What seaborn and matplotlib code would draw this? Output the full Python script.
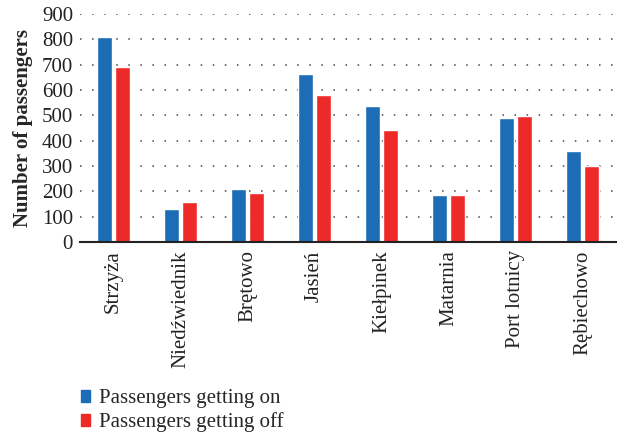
import matplotlib
matplotlib.use("Agg")
import matplotlib.pyplot as plt
import seaborn as sns
import pandas as pd
from matplotlib.patches import Patch

stops = ["Strzyża", "Niedźwiednik", "Brętowo", "Jasień", "Kiełpinek",
         "Matarnia", "Port lotnicy", "Rębiechowo"]
getting_on = [810, 131, 210, 664, 538, 187, 491, 360]
getting_off = [692, 156, 192, 582, 443, 187, 499, 301]
series_names = ["Passengers getting on", "Passengers getting off"]
yticks = [0, 100, 200, 300, 400, 500, 600, 700, 800, 900]

df = pd.DataFrame({
    "stop": stops * 2,
    "value": getting_on + getting_off,
    "series": [series_names[0]] * len(stops) + [series_names[1]] * len(stops),
})

sns.set_style("white")
plt.rcParams["font.family"] = ["Liberation Serif", "DejaVu Serif"]

fig = plt.figure(figsize=(6.17, 4.32), dpi=100)
ax = fig.add_axes([80 / 617, 1 - 242 / 432, 536 / 617, 228 / 432])

palette = {series_names[0]: "#1c6db5", series_names[1]: "#ee2a28"}
sns.barplot(data=df, x="stop", y="value", hue="series", palette=palette,
            width=0.53, gap=0.12, ax=ax, legend=False, saturation=1)

ax.set_ylim(0, 900)
ax.set_xlim(-0.5, len(stops) - 0.5)
ax.set_yticks(yticks)
ax.set_yticklabels([str(t) for t in yticks], fontsize=15, color="#222222")
ax.set_xticks(range(len(stops)))
ax.set_xticklabels(stops, rotation=90, fontsize=15, color="#222222")
ax.tick_params(axis="y", length=0, pad=5)
ax.tick_params(axis="x", length=0, pad=6)
ax.set_xlabel("")
ax.set_ylabel("Number of passengers", fontsize=15, fontweight="bold", labelpad=6)

for t in yticks[1:]:
    ax.axhline(t, color="#444444", lw=1.1, linestyle=(0, (1, 6.9)), zorder=0)

for s in ["top", "right", "left"]:
    ax.spines[s].set_visible(False)
ax.spines["bottom"].set_color("#222222")
ax.spines["bottom"].set_linewidth(1.5)

handles = [Patch(color=palette[n]) for n in series_names]
fig.legend(handles, series_names, loc="lower left", bbox_to_anchor=(68 / 617, -0.03),
           frameon=False, fontsize=15, handlelength=0.45, handleheight=0.45,
           handletextpad=0.45, labelspacing=0.2, borderaxespad=0.2)

fig.savefig("out.png", dpi=100)
